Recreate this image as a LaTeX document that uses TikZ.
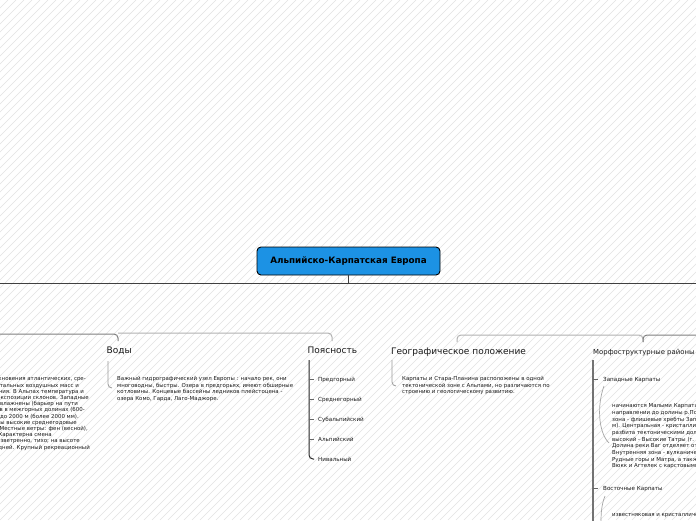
\documentclass[tikz,border=0pt]{standalone}
\usepackage{fontspec}
\setmainfont{DejaVu Sans}
\definecolor{rootblue}{RGB}{28,146,228}
\definecolor{txt}{RGB}{25,25,25}
\definecolor{hatchc}{RGB}{226,226,226}
\tikzset{
  hatch/.style={draw=hatchc,line width=0.45pt},
  rootbox/.style={draw=black,line width=0.9pt,fill=rootblue,rounded corners=4pt,
    minimum width=183pt,minimum height=28pt,inner sep=0pt,
    font=\bfseries\fontsize{8.8}{10}\selectfont,text=black},
  bus/.style={draw=black!75,line width=1pt},
  conndark/.style={draw=black!50,line width=1pt,rounded corners=4pt},
  connlight/.style={draw=black!30,line width=1pt,rounded corners=4pt},
  headtxt/.style={anchor=base west,inner sep=0pt,text=black!90,font=\fontsize{9}{11}\selectfont},
  headsmall/.style={anchor=base west,inner sep=0pt,text=black!90,font=\fontsize{6.9}{9}\selectfont},
  bodyline/.style={anchor=base west,inner sep=0pt,text=txt,font=\fontsize{5.45}{6.5}\selectfont},
  itemtxt/.style={anchor=base west,inner sep=0pt,text=txt,font=\fontsize{5.6}{7}\selectfont},
  leftline/.style={anchor=base east,inner sep=0pt,text=txt,font=\fontsize{5.45}{6.3}\selectfont},
  vline/.style={draw=black!40,line width=0.8pt,rounded corners=4pt},
  vdark/.style={draw=black!85,line width=1pt,rounded corners=4pt},
  vthick/.style={draw=black!55,line width=1.8pt},
  tick/.style={draw=black!60,line width=0.8pt},
  curv/.style={draw=black!35,line width=0.7pt}
}
\begin{document}
\begin{tikzpicture}[x=1pt,y=-1pt]
\useasboundingbox (0,0) rectangle (696,520);
\clip (0,0) rectangle (696,520);
\fill[white] (0,0) rectangle (696,520);
\foreach \i in {0,8,...,1232} \draw[hatch] (\i-520,520) -- (\i,0);

% root
\node[rootbox] (root) at (348.5,261) {Альпийско-Карпатская Европа};
\coordinate (busL) at (0,283);
\coordinate (busR) at (696,283);
\draw[bus] (root.south) -- (root.south |- busL);
\draw[bus] (busL) -- (busR);

% second level connectors
\coordinate (cA) at (0,334);
\coordinate (cB) at (118,341);
\coordinate (cC) at (332,341);
\coordinate (cD) at (457,342);
\coordinate (cE) at (643,342);
\coordinate (cF) at (696,335);
\draw[conndark] (cA) -| (cB);
\draw[connlight] (118,333) -| (cC);
\draw[connlight] (cD) |- (cE |- cF) -- (cE);
\draw[conndark] (cE) |- (cF);

% left clipped block
\foreach \t/\xe [count=\k from 0] in {
  {столкновения атлантических, сре-}/86,
  {континентальных воздушных масс и}/79,
  {влияния. В Альпах температура и}/84,
  {зависят от экспозиции склонов. Западные}/89,
  {склоны наиболее увлажнены (барьер на пути}/78,
  {осадков в межгорных долинах (600-}/85,
  {до 2000 м (более 2000 мм).}/79,
  {Характерны высокие среднегодовые}/77,
  {осадков. Местные ветры: фен (весной),}/88,
  {Характерна смена}/52,
  {безветренно, тихо; на высоте}/80,
  {солнечных дней. Крупный рекреационный}/90}
  \node[leftline] (L\k) at (\xe,380.8+6.2*\k) {\t};

% Воды
\node[headtxt] (vody) at (106.5,353.5) {Воды};
\draw[vline] (108,361) -- (108,388) -- (112,388);
\foreach \t [count=\k from 0] in {
  {Важный гидрографический узел Европы : начало рек, они},
  {многоводны, быстры. Озера в предгорьях, имеют обширные},
  {котловины. Концевые бассейны ледников плейстоцена -},
  {озера Комо, Гарда, Лаго-Маджоре.}}
  \node[bodyline] (V\k) at (117,380.8+6.43*\k) {\t};

% Поясность
\node[headtxt] (poyas) at (307.5,353.5) {Поясность};
\draw[vdark] (309,360) -- (309,459) -- (314,459);
\foreach \yy in {379,399,419,439}
  \draw[tick] (309,\yy) -- (314,\yy);
\foreach \t/\yy [count=\k] in {Предгорный/379,Среднегорный/399,Субальпийский/419,Альпийский/439,Нивальный/459}
  \node[itemtxt] (P\k) at (318,\yy+2) {\t};

% Географическое положение
\node[headtxt] (geo) at (391,354) {Географическое положение};
\draw[vline] (392,360) -- (392,386) -- (396,386);
\foreach \t [count=\k from 0] in {
  {Карпаты и Стара-Планина расположены в одной},
  {тектонической зоне с Альпами, но различаются по},
  {строению и геологическому развитию.}}
  \node[bodyline] (G\k) at (402,380.3+6.8*\k) {\t};

% Морфоструктурные районы
\node[headsmall] (morf) at (593,354.5) {Морфоструктурные районы};
\draw[vthick] (593,360) -- (593,525);
\draw[tick] (593,379) -- (598,379);
\draw[tick] (593,488) -- (598,488);
\node[itemtxt] (zap) at (603,381) {Западные Карпаты};
\node[itemtxt] (vost) at (603,490) {Восточные Карпаты};
\draw[curv] (604,386) .. controls (597,405) and (598,432) .. (609,443);
\draw[curv] (605,496) .. controls (601,506) and (601,515) .. (601,525);
\foreach \t [count=\k from 0] in {
  {начинаются Малыми Карпатами и тянутся в},
  {направлении до долины р.Попрад. Внешняя},
  {зона - флишевые хребты Западных Бескид},
  {м). Центральная - кристаллическая зона},
  {разбита тектоническими долинами},
  {высокий - Высокие Татры (г. Герлаховски},
  {Долина реки Ваг отделяет от них},
  {Внутренняя зона - вулканические},
  {Рудные горы и Матра, а также},
  {Вюкк и Агтелек с карстовыми формами}}
  \node[bodyline] (Z\k) at (612,407.8+6.67*\k) {\t};
\node[bodyline] (vostT) at (612,516.8) {известняковая и кристаллическая};
\end{tikzpicture}
\end{document}
